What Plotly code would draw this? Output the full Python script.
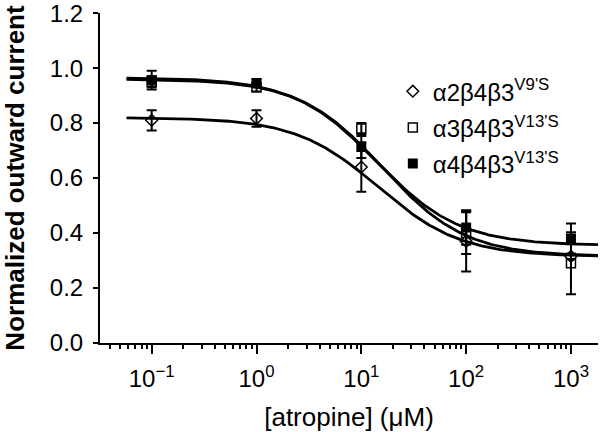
import numpy as np
import plotly.graph_objects as go

# atropine concentrations (uM) and normalized outward currents
conc = [0.1, 1, 10, 100, 1000]

a2_mean = [0.81, 0.817, 0.64, 0.37, 0.315]
a2_err = [0.037, 0.03, 0.09, 0.11, 0.01]

a3_mean = [0.95, 0.93, 0.78, 0.40, 0.29]
a3_err = [0.02, 0.015, 0.02, 0.076, 0.113]

a4_mean = [0.956, 0.945, 0.713, 0.42, 0.38]
a4_err = [0.034, 0.015, 0.04, 0.063, 0.055]

# Hill fit parameters: top, bottom, IC50 (uM), slope
a2_fit = [0.82, 0.315, 14.5, 1.1]
a3_fit = [0.96, 0.315, 16.0, 1.1]
a4_fit = [0.965, 0.355, 14.0, 1.1]

names = ["α2β4β3<sup>V9'S</sup>", "α3β4β3<sup>V13'S</sup>", "α4β4β3<sup>V13'S</sup>"]
tick_exp = [-1, 0, 1, 2, 3]
tick_text = ["10<sup>−1</sup>", "10<sup>0</sup>", "10<sup>1</sup>", "10<sup>2</sup>", "10<sup>3</sup>"]

FONT = "Liberation Sans, Arial, sans-serif"


def hill(x, p):
    top, bottom, ic50, h = p
    return bottom + (top - bottom) / (1 + (x / ic50) ** h)


xfit = np.logspace(-1.24, 3.26, 300)

fig = go.Figure()

for p in [a2_fit, a3_fit, a4_fit]:
    fig.add_trace(go.Scatter(x=xfit, y=hill(xfit, p), mode="lines",
                             line=dict(color="black", width=2.8),
                             showlegend=False, hoverinfo="skip"))

markers = [
    dict(symbol="diamond-open", size=9, color="black", line=dict(width=1.5, color="black")),
    dict(symbol="square-open", size=9, color="black", line=dict(width=1.5, color="black")),
    dict(symbol="square", size=10, color="black"),
]
for i, (name, mean, err, mk) in enumerate(zip(names, [a2_mean, a3_mean, a4_mean],
                                              [a2_err, a3_err, a4_err], markers)):
    fig.add_trace(go.Scatter(x=conc, y=mean, mode="markers", name=name,
                             legendgroup="g%d" % i, marker=mk,
                             error_y=dict(type="data", array=err, color="black",
                                          thickness=2, width=5)))

fig.update_layout(
    width=600, height=432,
    margin=dict(l=100, r=2, t=13, b=89),
    paper_bgcolor="white", plot_bgcolor="white",
    font=dict(family=FONT, size=24, color="black"),
    legend=dict(x=0.588, y=0.83, xanchor="left", yanchor="top",
                bgcolor="rgba(0,0,0,0)", itemwidth=30,
                traceorder="grouped", tracegroupgap=2,
                font=dict(size=24)),
)

fig.update_xaxes(
    type="log", range=[-1.493, 3.258], automargin=False,
    tickmode="array", tickvals=[10.0 ** e for e in tick_exp], ticktext=tick_text,
    showline=True, linecolor="black", linewidth=2,
    ticks="outside", ticklen=9, tickwidth=2, tickcolor="black",
    minor=dict(ticks="outside", ticklen=4, tickwidth=2, tickcolor="black", dtick="D1"),
    showgrid=False, zeroline=False, ticklabelstandoff=4,
    tickfont=dict(size=24),
    title=dict(text="[atropine] (μM)", font=dict(size=26), standoff=20),
)
fig.update_yaxes(
    range=[0, 1.2005], dtick=0.2, tick0=0, tickformat=".1f", automargin=False,
    showline=True, linecolor="black", linewidth=2,
    ticks="outside", ticklen=5, tickwidth=2, tickcolor="black",
    showgrid=False, zeroline=False, ticklabelstandoff=5, ticklabeloverflow="allow",
    tickfont=dict(size=24),
    title=dict(text="<b>Normalized outward current</b>", font=dict(size=26), standoff=22),
)

# drop the browser's default 8px page margin so the figure sits at the window's corner
fig.write_html("out.html", config={"displayModeBar": False},
               post_script="document.body.style.margin='0';")
